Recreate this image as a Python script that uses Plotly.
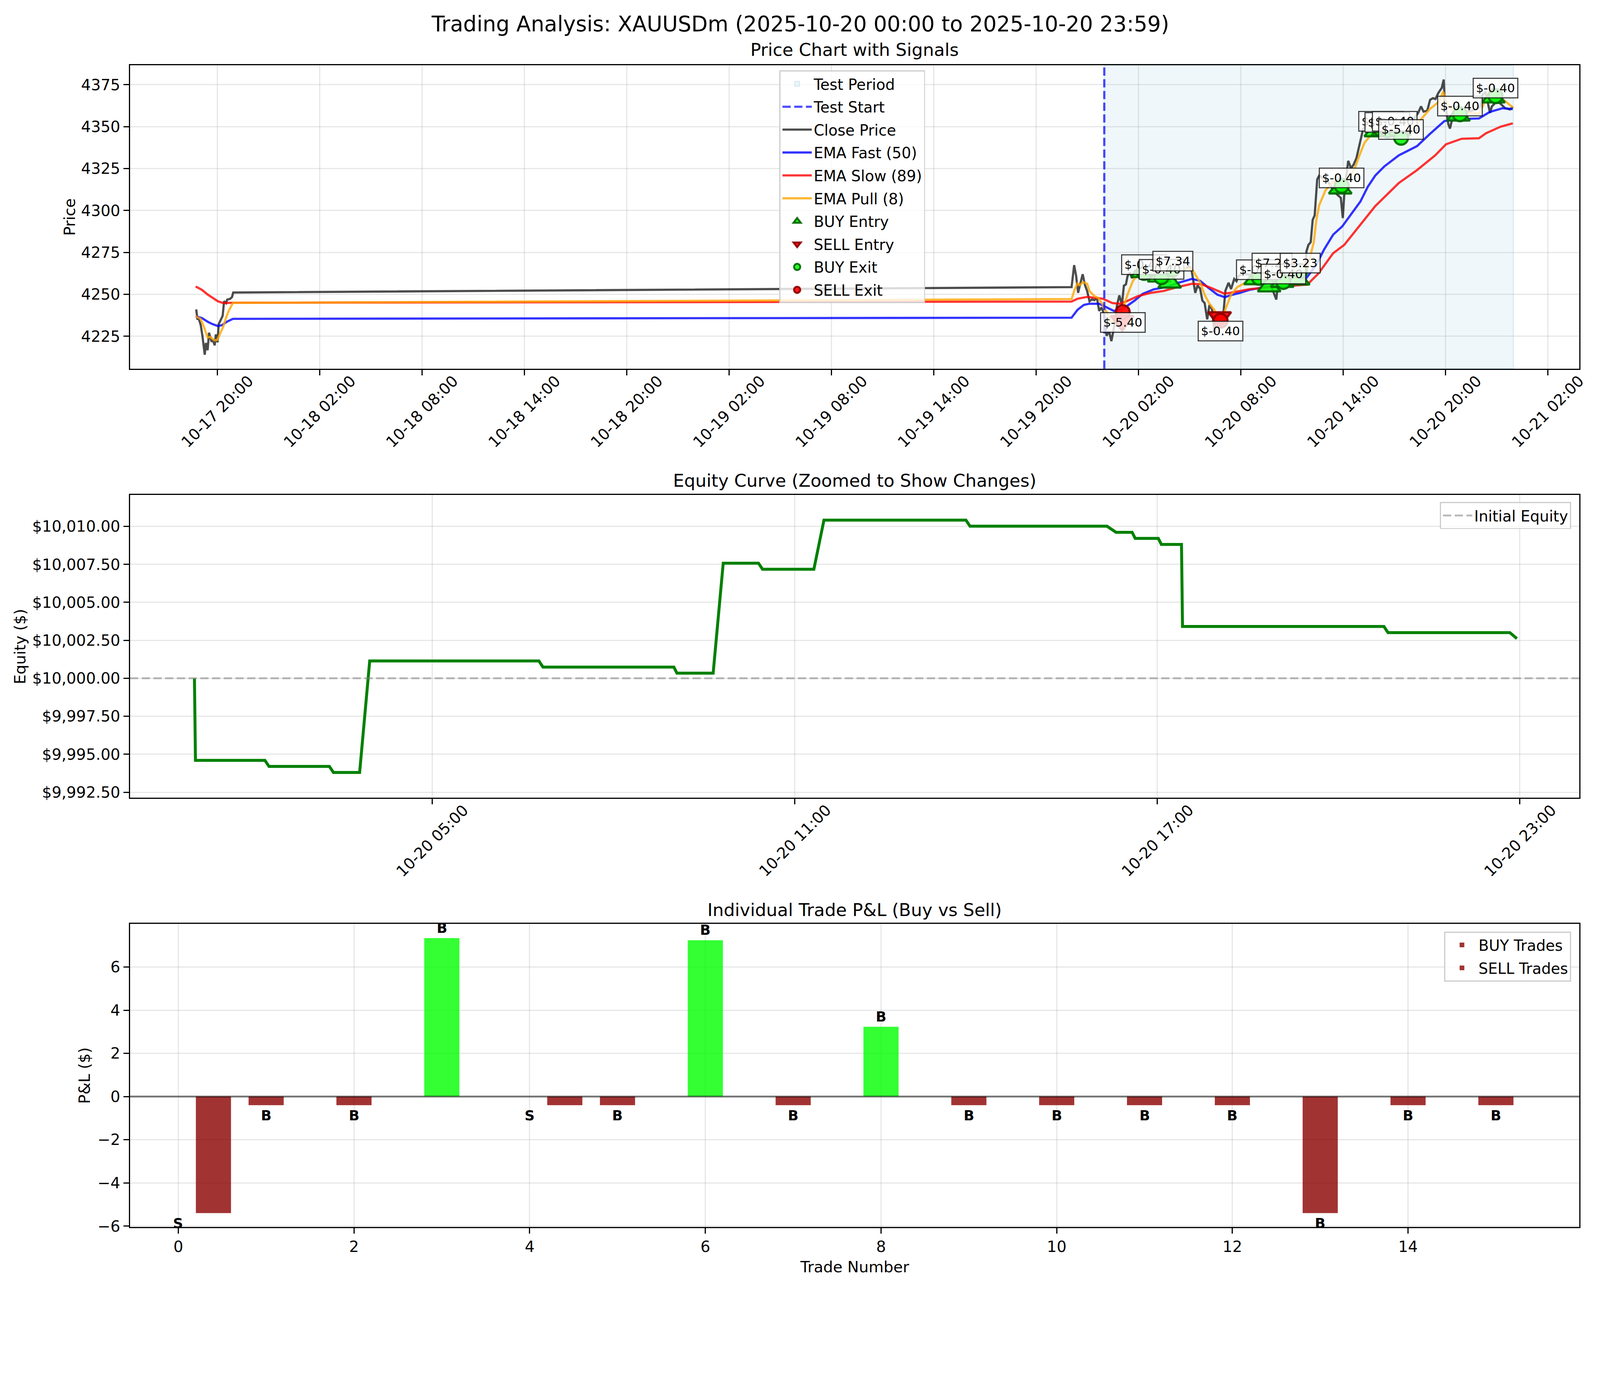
import plotly.graph_objects as go

# the page is photographed at a slight zoom, so sizes are given in reference
# pixels and scaled down by S; the width follows the window
S = 0.9375
H = 3303
FONT = "DejaVu Sans"


def px(v):
    return v * S


# ---- values -----------------------------------------------------------------

close_time = [
    "2025-10-17 18:46", "2025-10-17 18:50", "2025-10-17 18:56", "2025-10-17 19:02",
    "2025-10-17 19:08", "2025-10-17 19:16", "2025-10-17 19:20", "2025-10-17 19:26",
    "2025-10-17 19:31", "2025-10-17 19:40", "2025-10-17 19:44", "2025-10-17 19:51",
    "2025-10-17 19:55", "2025-10-17 20:01", "2025-10-17 20:05", "2025-10-17 20:12",
    "2025-10-17 20:19", "2025-10-17 20:24", "2025-10-17 20:31", "2025-10-17 20:35",
    "2025-10-17 20:45", "2025-10-17 20:52", "2025-10-17 20:56",
    "2025-10-19 22:05", "2025-10-19 22:14", "2025-10-19 22:21", "2025-10-19 22:28",
    "2025-10-19 22:36", "2025-10-19 22:44", "2025-10-19 22:52", "2025-10-19 23:00",
    "2025-10-19 23:08", "2025-10-19 23:17", "2025-10-19 23:25", "2025-10-19 23:34",
    "2025-10-19 23:42", "2025-10-19 23:50",
    "2025-10-20 00:00", "2025-10-20 00:08", "2025-10-20 00:17", "2025-10-20 00:25",
    "2025-10-20 00:34", "2025-10-20 00:45", "2025-10-20 00:53", "2025-10-20 01:02",
    "2025-10-20 01:09", "2025-10-20 01:16", "2025-10-20 01:22", "2025-10-20 01:30",
    "2025-10-20 01:38", "2025-10-20 01:47", "2025-10-20 02:00", "2025-10-20 02:18",
    "2025-10-20 02:36", "2025-10-20 03:00", "2025-10-20 03:24", "2025-10-20 03:48",
    "2025-10-20 04:12", "2025-10-20 04:36", "2025-10-20 04:57", "2025-10-20 05:06",
    "2025-10-20 05:20", "2025-10-20 05:28", "2025-10-20 05:37", "2025-10-20 05:45",
    "2025-10-20 05:53", "2025-10-20 06:02", "2025-10-20 06:10", "2025-10-20 06:19",
    "2025-10-20 06:27", "2025-10-20 06:35", "2025-10-20 06:46", "2025-10-20 06:58",
    "2025-10-20 07:06", "2025-10-20 07:17", "2025-10-20 07:26", "2025-10-20 07:37",
    "2025-10-20 07:45", "2025-10-20 07:53", "2025-10-20 08:10", "2025-10-20 08:48",
    "2025-10-20 09:12", "2025-10-20 09:36", "2025-10-20 10:05", "2025-10-20 10:12",
    "2025-10-20 10:36", "2025-10-20 11:00", "2025-10-20 11:24", "2025-10-20 11:47",
    "2025-10-20 11:51", "2025-10-20 11:58", "2025-10-20 12:06", "2025-10-20 12:13",
    "2025-10-20 12:20", "2025-10-20 12:29", "2025-10-20 12:36", "2025-10-20 12:58",
    "2025-10-20 13:12", "2025-10-20 13:30", "2025-10-20 13:52", "2025-10-20 13:59",
    "2025-10-20 14:05", "2025-10-20 14:18", "2025-10-20 14:28", "2025-10-20 14:37",
    "2025-10-20 14:47", "2025-10-20 14:56", "2025-10-20 15:03", "2025-10-20 15:10",
    "2025-10-20 15:19", "2025-10-20 15:29", "2025-10-20 15:48", "2025-10-20 16:12",
    "2025-10-20 16:36", "2025-10-20 17:00", "2025-10-20 17:24", "2025-10-20 17:48",
    "2025-10-20 18:06", "2025-10-20 18:24", "2025-10-20 18:34", "2025-10-20 18:43",
    "2025-10-20 18:56", "2025-10-20 19:06", "2025-10-20 19:16", "2025-10-20 19:25",
    "2025-10-20 19:35", "2025-10-20 19:47", "2025-10-20 19:54", "2025-10-20 19:57",
    "2025-10-20 20:10", "2025-10-20 20:16", "2025-10-20 20:26", "2025-10-20 20:42",
    "2025-10-20 21:00", "2025-10-20 21:24", "2025-10-20 21:42", "2025-10-20 22:02",
    "2025-10-20 22:11", "2025-10-20 22:21", "2025-10-20 22:37", "2025-10-20 22:43",
    "2025-10-20 22:57", "2025-10-20 23:12", "2025-10-20 23:30", "2025-10-20 23:47",
    "2025-10-20 23:57",
]
close_price = [
    4241.0, 4235.4, 4235.1, 4231.5, 4225.0, 4214.0, 4221.0, 4216.7, 4227.1, 4221.7,
    4223.0, 4219.6, 4226.1, 4221.4, 4232.2, 4235.1, 4237.2, 4245.9, 4244.8, 4246.9,
    4247.3, 4248.4, 4251.1,
    4254.3, 4267.4, 4261.0, 4250.9, 4256.6, 4262.0, 4255.6, 4251.8, 4245.9, 4247.0,
    4246.5, 4248.0, 4240.1, 4242.2,
    4237.9, 4225.3, 4227.9, 4222.1, 4230.0, 4243.7, 4249.4, 4243.7, 4255.2, 4255.9,
    4261.0, 4263.1, 4259.6, 4263.8, 4262.5, 4264.0, 4261.5, 4263.5, 4262.0, 4264.5,
    4265.5, 4264.0, 4266.7, 4265.5, 4250.9, 4255.2, 4253.5, 4246.3, 4244.8, 4235.1,
    4243.7, 4241.0, 4227.1, 4232.2, 4236.0, 4236.6, 4252.2, 4256.9, 4253.2, 4259.2,
    4257.8, 4261.0, 4262.4, 4261.0, 4262.0, 4260.0, 4246.9, 4258.0, 4260.0, 4259.5,
    4260.5, 4261.0, 4275.6, 4279.5, 4281.1, 4294.4, 4297.1, 4318.6, 4320.8, 4318.6,
    4316.0, 4310.9, 4307.6, 4295.5, 4312.0, 4329.6, 4325.2, 4327.4, 4331.3, 4338.4,
    4343.9, 4348.3, 4350.4, 4347.2, 4353.0, 4352.0, 4350.5, 4351.5, 4348.0, 4351.0,
    4354.0, 4358.2, 4362.1, 4359.0, 4359.5, 4366.0, 4367.0, 4366.5, 4370.1, 4373.1,
    4378.1, 4366.0, 4351.6, 4348.9, 4356.3, 4357.5, 4358.1, 4359.3, 4360.0, 4361.8,
    4369.3, 4370.4, 4358.2, 4362.0, 4364.5, 4364.0, 4361.0, 4360.3, 4361.8,
]

ema_fast_time = [
    "2025-10-17 18:44", "2025-10-17 19:06", "2025-10-17 19:27", "2025-10-17 19:44",
    "2025-10-17 20:02", "2025-10-17 20:16", "2025-10-17 20:33", "2025-10-17 20:55",
    "2025-10-19 22:05", "2025-10-19 22:26", "2025-10-19 22:48", "2025-10-19 23:08",
    "2025-10-19 23:42", "2025-10-20 00:10", "2025-10-20 00:34", "2025-10-20 01:07",
    "2025-10-20 01:47", "2025-10-20 02:15", "2025-10-20 02:54", "2025-10-20 03:39",
    "2025-10-20 04:23", "2025-10-20 05:08", "2025-10-20 05:37", "2025-10-20 06:05",
    "2025-10-20 06:38", "2025-10-20 07:04", "2025-10-20 07:23", "2025-10-20 07:57",
    "2025-10-20 08:31", "2025-10-20 09:30", "2025-10-20 10:30", "2025-10-20 11:00",
    "2025-10-20 11:48", "2025-10-20 12:27", "2025-10-20 12:53", "2025-10-20 13:25",
    "2025-10-20 13:57", "2025-10-20 14:23", "2025-10-20 15:01", "2025-10-20 15:27",
    "2025-10-20 15:53", "2025-10-20 16:25", "2025-10-20 17:16", "2025-10-20 18:20",
    "2025-10-20 19:05", "2025-10-20 19:56", "2025-10-20 20:28", "2025-10-20 21:58",
    "2025-10-20 22:36", "2025-10-20 23:21", "2025-10-20 23:57",
]
ema_fast = [
    4236.9, 4235.9, 4233.6, 4232.2, 4231.1, 4231.6, 4233.6, 4235.4,
    4236.1, 4240.8, 4243.7, 4244.4, 4244.4, 4242.2, 4240.1, 4241.5,
    4246.3, 4250.3, 4253.0, 4254.4, 4257.0, 4259.2, 4258.1, 4254.1,
    4249.8, 4248.3, 4249.4, 4250.9, 4252.7, 4254.5, 4256.0, 4256.8,
    4259.1, 4267.9, 4276.7, 4285.6, 4290.5, 4296.6, 4305.4, 4314.2,
    4320.8, 4326.3, 4332.9, 4338.4, 4345.6, 4353.3, 4354.4, 4354.9,
    4358.8, 4361.0, 4360.5,
]

ema_slow_time = [
    "2025-10-17 18:44", "2025-10-17 19:06", "2025-10-17 19:27", "2025-10-17 19:44",
    "2025-10-17 20:02", "2025-10-17 20:21", "2025-10-17 20:55",
    "2025-10-19 22:05", "2025-10-19 22:26", "2025-10-19 23:00", "2025-10-19 23:55",
    "2025-10-20 00:28", "2025-10-20 00:56", "2025-10-20 01:24", "2025-10-20 01:58",
    "2025-10-20 02:43", "2025-10-20 03:28", "2025-10-20 04:12", "2025-10-20 05:08",
    "2025-10-20 05:42", "2025-10-20 06:16", "2025-10-20 07:01", "2025-10-20 07:23",
    "2025-10-20 07:57", "2025-10-20 08:31", "2025-10-20 09:30", "2025-10-20 10:30",
    "2025-10-20 11:00", "2025-10-20 11:54", "2025-10-20 12:33", "2025-10-20 13:25",
    "2025-10-20 14:04", "2025-10-20 14:49", "2025-10-20 15:53", "2025-10-20 17:16",
    "2025-10-20 18:20", "2025-10-20 19:24", "2025-10-20 20:02", "2025-10-20 20:57",
    "2025-10-20 21:58", "2025-10-20 22:23", "2025-10-20 23:14", "2025-10-20 23:57",
]
ema_slow = [
    4254.7, 4252.7, 4249.8, 4248.0, 4245.9, 4244.8, 4245.0,
    4245.7, 4247.4, 4248.5, 4247.4, 4244.8, 4244.4, 4246.3, 4248.9,
    4250.9, 4252.0, 4254.1, 4256.3, 4256.0, 4253.8, 4250.5, 4250.9,
    4252.0, 4253.1, 4254.0, 4254.8, 4255.2, 4255.8, 4262.4, 4274.5,
    4279.5, 4288.9, 4302.6, 4316.4, 4324.1, 4332.9, 4339.5, 4342.8,
    4343.1, 4346.1, 4350.0, 4352.0,
]

ema_pull_time = [
    "2025-10-17 18:44", "2025-10-17 19:01", "2025-10-17 19:11", "2025-10-17 19:17",
    "2025-10-17 19:26", "2025-10-17 19:35", "2025-10-17 19:50", "2025-10-17 20:00",
    "2025-10-17 20:10", "2025-10-17 20:21", "2025-10-17 20:29", "2025-10-17 20:40",
    "2025-10-17 20:55",
    "2025-10-19 22:05", "2025-10-19 22:16", "2025-10-19 22:26", "2025-10-19 22:34",
    "2025-10-19 22:46", "2025-10-19 23:00", "2025-10-19 23:08", "2025-10-19 23:24",
    "2025-10-19 23:40", "2025-10-19 23:54", "2025-10-20 00:10", "2025-10-20 00:25",
    "2025-10-20 00:42", "2025-10-20 01:02", "2025-10-20 01:24", "2025-10-20 01:41",
    "2025-10-20 01:58", "2025-10-20 02:30", "2025-10-20 03:00", "2025-10-20 03:40",
    "2025-10-20 04:20", "2025-10-20 05:06", "2025-10-20 05:23", "2025-10-20 05:37",
    "2025-10-20 05:54", "2025-10-20 06:10", "2025-10-20 06:27", "2025-10-20 06:46",
    "2025-10-20 07:12", "2025-10-20 07:26", "2025-10-20 07:48", "2025-10-20 08:22",
    "2025-10-20 09:00", "2025-10-20 09:45", "2025-10-20 10:30", "2025-10-20 11:15",
    "2025-10-20 11:45", "2025-10-20 12:04", "2025-10-20 12:17", "2025-10-20 12:26",
    "2025-10-20 12:36", "2025-10-20 12:58", "2025-10-20 13:27", "2025-10-20 13:56",
    "2025-10-20 14:15", "2025-10-20 14:41", "2025-10-20 15:00", "2025-10-20 15:16",
    "2025-10-20 15:38", "2025-10-20 17:16", "2025-10-20 18:20", "2025-10-20 19:05",
    "2025-10-20 19:37", "2025-10-20 19:52", "2025-10-20 20:05", "2025-10-20 20:28",
    "2025-10-20 21:58", "2025-10-20 22:14", "2025-10-20 22:30", "2025-10-20 23:28",
    "2025-10-20 23:57",
]
ema_pull = [
    4237.0, 4235.4, 4231.5, 4228.6, 4224.3, 4224.6, 4222.6, 4222.8,
    4226.8, 4230.7, 4235.1, 4240.1, 4244.9,
    4247.2, 4253.0, 4256.6, 4255.5, 4257.3, 4256.3, 4252.0, 4249.1,
    4247.7, 4244.1, 4238.3, 4233.6, 4232.9, 4240.1, 4250.9, 4258.1,
    4261.7, 4263.0, 4263.5, 4263.5, 4264.5, 4265.7, 4261.0, 4257.1,
    4249.4, 4244.4, 4240.8, 4232.2, 4243.7, 4249.8, 4254.4, 4257.3,
    4259.5, 4259.0, 4258.5, 4259.5, 4261.0, 4272.3, 4281.2, 4294.4,
    4303.2, 4312.0, 4317.5, 4312.0, 4317.5, 4325.2, 4334.0, 4340.6,
    4345.0, 4350.0, 4351.6, 4360.5, 4364.9, 4370.9, 4363.8, 4358.8,
    4357.8, 4363.3, 4370.4, 4365.5, 4361.5,
]

# trades (one entry per trade, in order)
trade_side = ["SELL", "BUY", "BUY", "BUY", "SELL", "BUY", "BUY", "BUY",
              "BUY", "BUY", "BUY", "BUY", "BUY", "BUY", "BUY", "BUY"]
trade_pnl = [-5.40, -0.40, -0.40, 7.34, -0.40, -0.40, 7.24, -0.40,
             3.23, -0.40, -0.40, -0.40, -0.40, -5.40, -0.40, -0.40]
entry_time = ["2025-10-20 01:03", "2025-10-20 02:14", "2025-10-20 03:13", "2025-10-20 03:50",
              "2025-10-20 06:46", "2025-10-20 08:52", "2025-10-20 09:40", "2025-10-20 10:26",
              "2025-10-20 11:22", "2025-10-20 13:50", "2025-10-20 15:55", "2025-10-20 16:20",
              "2025-10-20 16:46", "2025-10-20 17:18", "2025-10-20 20:46", "2025-10-20 22:49"]
entry_price = [4234.2, 4263.3, 4260.6, 4257.0, 4236.4, 4259.0, 4254.7, 4257.4,
               4258.8, 4313.1, 4347.2, 4347.5, 4348.0, 4348.0, 4356.6, 4367.4]
exit_time = ["2025-10-20 01:05", "2025-10-20 02:20", "2025-10-20 03:21", "2025-10-20 04:01",
             "2025-10-20 06:49", "2025-10-20 09:04", "2025-10-20 09:50", "2025-10-20 10:30",
             "2025-10-20 11:29", "2025-10-20 13:55", "2025-10-20 16:14", "2025-10-20 16:36",
             "2025-10-20 17:02", "2025-10-20 17:24", "2025-10-20 20:51", "2025-10-20 22:56"]
exit_price = [4239.4, 4262.8, 4260.2, 4264.9, 4234.3, 4259.9, 4263.8, 4257.4,
              4263.8, 4314.7, 4348.3, 4347.8, 4348.3, 4343.4, 4357.4, 4368.2]

equity_time = [
    "2025-10-20 01:04", "2025-10-20 01:05", "2025-10-20 02:14", "2025-10-20 02:18",
    "2025-10-20 03:18", "2025-10-20 03:22", "2025-10-20 03:48", "2025-10-20 03:58",
    "2025-10-20 06:46", "2025-10-20 06:50", "2025-10-20 09:00", "2025-10-20 09:03",
    "2025-10-20 09:39", "2025-10-20 09:49", "2025-10-20 10:24", "2025-10-20 10:28",
    "2025-10-20 11:19", "2025-10-20 11:29", "2025-10-20 13:50", "2025-10-20 13:54",
    "2025-10-20 16:10", "2025-10-20 16:19", "2025-10-20 16:35", "2025-10-20 16:38",
    "2025-10-20 17:01", "2025-10-20 17:04", "2025-10-20 17:24", "2025-10-20 17:25",
    "2025-10-20 20:45", "2025-10-20 20:49", "2025-10-20 22:50", "2025-10-20 22:57",
]
equity = [
    10000.00, 9994.60, 9994.60, 9994.20, 9994.20, 9993.80, 9993.80, 10001.14,
    10001.14, 10000.74, 10000.74, 10000.34, 10000.34, 10007.58, 10007.58, 10007.18,
    10007.18, 10010.41, 10010.41, 10010.01, 10010.01, 10009.61, 10009.61, 10009.21,
    10009.21, 10008.81, 10008.81, 10003.41, 10003.41, 10003.01, 10003.01, 10002.61,
]
initial_equity = 10000.0

test_start = "2025-10-20 00:00"
test_end = "2025-10-20 23:59"

# date ticks (labels are month-day hour:minute)
price_ticks = [
    "2025-10-17 20:00", "2025-10-18 02:00", "2025-10-18 08:00", "2025-10-18 14:00",
    "2025-10-18 20:00", "2025-10-19 02:00", "2025-10-19 08:00", "2025-10-19 14:00",
    "2025-10-19 20:00", "2025-10-20 02:00", "2025-10-20 08:00", "2025-10-20 14:00",
    "2025-10-20 20:00", "2025-10-21 02:00",
]
equity_ticks = ["2025-10-20 05:00", "2025-10-20 11:00", "2025-10-20 17:00", "2025-10-20 23:00"]

# ---- figure -----------------------------------------------------------------

XDOM = [0.0796, 0.989]
TOP, MID, BOT = [0.7149, 0.9515], [0.3802, 0.6164], [0.0454, 0.2817]


def ax(**kw):
    base = dict(showline=True, linecolor="black", linewidth=px(3.3), mirror=True,
                ticks="outside", ticklen=px(15), tickwidth=px(3.3), tickcolor="black",
                tickfont=dict(size=px(42), family=FONT, color="black"),
                showgrid=True, gridcolor="rgba(176,176,176,0.3)", gridwidth=px(3),
                zeroline=False)
    base.update(kw)
    return base


fig = go.Figure()

line_style = [
    ("Close Price", close_time, close_price, "rgba(0,0,0,0.7)", 3),
    ("EMA Fast (50)", ema_fast_time, ema_fast, "rgba(0,0,255,0.8)", 4),
    ("EMA Slow (89)", ema_slow_time, ema_slow, "rgba(255,0,0,0.8)", 5),
    ("EMA Pull (8)", ema_pull_time, ema_pull, "rgba(255,165,0,0.8)", 6),
]
for name, xs, ys, col, rank in line_style:
    fig.add_trace(go.Scatter(x=xs, y=ys, mode="lines", name=name, legendrank=rank,
                             legendgroup=name,
                             line=dict(color=col, width=px(6)), xaxis="x", yaxis="y"))

buy = [i for i, s in enumerate(trade_side) if s == "BUY"]
sell = [i for i, s in enumerate(trade_side) if s == "SELL"]
GREEN = dict(color="rgba(0,255,0,0.85)", line=dict(color="rgba(0,100,0,0.9)", width=px(6)))
RED = dict(color="rgba(255,0,0,0.9)", line=dict(color="rgba(139,0,0,0.9)", width=px(6)))

markers = [
    ("BUY Entry", buy, entry_time, entry_price, "triangle-up", GREEN, 54, 7),
    ("SELL Entry", sell, entry_time, entry_price, "triangle-down", RED, 54, 8),
    ("BUY Exit", buy, exit_time, exit_price, "circle", GREEN, 38, 9),
    ("SELL Exit", sell, exit_time, exit_price, "circle", RED, 38, 10),
]
for name, idx, tt, pp, sym, style, size, rank in markers:
    fig.add_trace(go.Scatter(x=[tt[i] for i in idx], y=[pp[i] for i in idx],
                             mode="markers", name=name, legendrank=rank, legendgroup=name,
                             marker=dict(symbol=sym, size=px(size), **style),
                             xaxis="x", yaxis="y"))

# test period shading / start line (with legend entries)
fig.add_shape(type="rect", xref="x", yref="y domain", x0=test_start, x1=test_end,
              y0=0, y1=1, fillcolor="rgba(173,216,230,0.2)",
              line=dict(color="rgba(173,216,230,0.45)", width=px(3)),
              layer="below", showlegend=True, name="Test Period", legendrank=1,
              legendgroup="Test Period")
fig.add_shape(type="line", xref="x", yref="y domain", x0=test_start, x1=test_start,
              y0=0, y1=1,
              line=dict(color="rgba(0,0,255,0.7)", width=px(6), dash="21px,9px"),
              showlegend=True, name="Test Start", legendrank=2, legendgroup="Test Start")

# P&L labels at each exit
for i in range(len(trade_pnl)):
    up = trade_side[i] == "BUY"
    fig.add_annotation(x=exit_time[i], y=exit_price[i], xref="x", yref="y",
                       text=f"${trade_pnl[i]:.2f}", showarrow=False,
                       yshift=px(22) if up else px(-28),
                       font=dict(size=px(33), family=FONT, color="black"),
                       bgcolor="rgba(255,255,255,0.8)", bordercolor="rgba(0,0,0,0.75)",
                       borderwidth=px(3), borderpad=px(6))

# equity curve
fig.add_trace(go.Scatter(x=equity_time, y=equity, mode="lines", showlegend=False,
                         line=dict(color="green", width=px(8)), xaxis="x2", yaxis="y2"))
fig.add_shape(type="line", xref="x2 domain", yref="y2", x0=0, x1=1,
              y0=initial_equity, y1=initial_equity,
              line=dict(color="rgba(128,128,128,0.55)", width=px(5), dash="21px,9px"),
              showlegend=True, name="Initial Equity", legend="legend2")

# trade P&L bars: buys sit on the trade number, sells just to its right
POS, NEG = "rgba(0,255,0,0.8)", "rgba(139,0,0,0.8)"
for name, idx, off in [("BUY Trades", buy, -0.2), ("SELL Trades", sell, 0.2)]:
    fig.add_trace(go.Bar(x=idx, y=[trade_pnl[i] for i in idx], name=name,
                         width=0.4, offset=off, legendgroup=name,
                         marker=dict(color=[POS if trade_pnl[i] > 0 else NEG for i in idx],
                                     line=dict(width=0)),
                         legend="legend3", xaxis="x3", yaxis="y3"))
fig.add_shape(type="line", xref="x3 domain", yref="y3", x0=0, x1=1, y0=0, y1=0,
              line=dict(color="rgba(0,0,0,0.5)", width=px(5)))
for i, p in enumerate(trade_pnl):
    fig.add_annotation(x=i, y=p, xref="x3", yref="y3", showarrow=False,
                       text="B" if trade_side[i] == "BUY" else "S",
                       yanchor="bottom" if p > 0 else "top",
                       yshift=px(4) if p > 0 else px(-4),
                       font=dict(size=px(38), family=FONT, color="black", weight="bold"))

# rotated date labels, centred under their ticks
for ticks, xr, yr in [(price_ticks, "x", "y domain"), (equity_ticks, "x2", "y2 domain")]:
    for t in ticks:
        fig.add_annotation(x=t, y=0, xref=xr, yref=yr, text=t[5:16], showarrow=False,
                           xanchor="center", yanchor="top", textangle=-45,
                           yshift=-px(6),
                           font=dict(size=px(42), family=FONT, color="black"))

# titles
texts = [
    ("Trading Analysis: XAUUSDm (2025-10-20 00:00 to 2025-10-20 23:59)", 0.5, 0.9836, 58, 0),
    ("Price Chart with Signals", 0.5343, 0.9635, 48, 0),
    ("Equity Curve (Zoomed to Show Changes)", 0.5343, 0.6274, 48, 0),
    ("Individual Trade P&L (Buy vs Sell)", 0.5343, 0.2927, 48, 0),
    ("Price", 0.0417, 0.8332, 42, -90),
    ("Equity ($)", 0.0105, 0.4983, 42, -90),
    ("P&L ($)", 0.0509, 0.1636, 42, -90),
    ("Trade Number", 0.5343, 0.0144, 42, 0),
]
for t, x, y, s, ang in texts:
    fig.add_annotation(text=t, x=x, y=y, xref="paper", yref="paper", showarrow=False,
                       xanchor="center", yanchor="middle", textangle=ang,
                       font=dict(size=px(s), family=FONT, color="black"))

LEG = dict(bgcolor="rgba(255,255,255,0.8)", bordercolor="#cccccc", borderwidth=px(3),
           font=dict(size=px(41), family=FONT, color="black"), itemwidth=px(80),
           tracegroupgap=px(6))

fig.update_layout(
    height=H, margin=dict(l=0, r=0, t=0, b=0),
    paper_bgcolor="white", plot_bgcolor="white", barmode="overlay",
    font=dict(family=FONT, color="black"), hovermode=False,
    legend=dict(x=0.4871, y=0.9475, xanchor="left", yanchor="top", **LEG),
    legend2=dict(x=0.9839, y=0.6108, xanchor="right", yanchor="top", **LEG),
    legend3=dict(x=0.9839, y=0.2758, xanchor="right", yanchor="top", **LEG),
    xaxis=ax(domain=XDOM, anchor="y", type="date",
             range=["2025-10-17 14:53", "2025-10-21 03:51"],
             tickvals=price_ticks, showticklabels=False),
    yaxis=ax(domain=TOP, anchor="x", range=[4205.7, 4386.6], tick0=0, dtick=25),
    xaxis2=ax(domain=XDOM, anchor="y2", type="date", range=[test_start, test_end],
              tickvals=equity_ticks, showticklabels=False),
    yaxis2=ax(domain=MID, anchor="x2", range=[9992.14, 10012.07], tick0=10000,
              dtick=2.5, tickformat="$,.2f"),
    xaxis3=ax(domain=XDOM, anchor="y3", range=[-0.55, 15.95], tick0=0, dtick=2),
    yaxis3=ax(domain=BOT, anchor="x3", range=[-6.04, 7.99], tick0=0, dtick=2),
)

fig.write_html("out.html")
